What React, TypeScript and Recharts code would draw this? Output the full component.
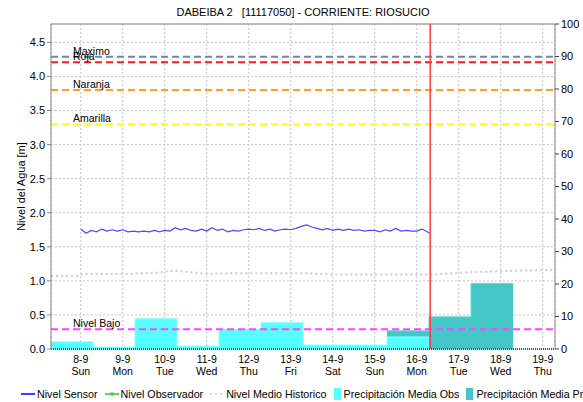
import React from "react";
import {
  ComposedChart,
  Line,
  Area,
  XAxis,
  YAxis,
  CartesianGrid,
  ReferenceLine,
  Legend,
} from "recharts";

const FONT = '"Liberation Sans", Arial, Helvetica, sans-serif';

const TITLE = "DABEIBA 2   [11117050] - CORRIENTE: RIOSUCIO";

// x axis: time in days, counted from 8-9 00:00
const DAY_LABELS = ["8-9", "9-9", "10-9", "11-9", "12-9", "13-9", "14-9", "15-9", "16-9", "17-9", "18-9", "19-9"];
const WEEKDAY_LABELS = ["Sun", "Mon", "Tue", "Wed", "Thu", "Fri", "Sat", "Sun", "Mon", "Tue", "Wed", "Thu"];
const DAY_TICKS = DAY_LABELS.map((_, i) => i);
const X_START = -17 / 24; // 7-9 07:00
const X_END = 11 + 7 / 24; // 19-9 07:00
const NOW = 8.32;

const LEVEL_TICKS = [0, 0.5, 1, 1.5, 2, 2.5, 3, 3.5, 4, 4.5];
const LEVEL_MAX = 4.77;
const MM_TICKS = [0, 10, 20, 30, 40, 50, 60, 70, 80, 90, 100];

// sensor level, one reading every 3 h from 8-9 00:00
const SENSOR_STEP = 3 / 24;
const SENSOR_M = [
  1.76, 1.70, 1.74, 1.72, 1.76, 1.73, 1.75, 1.73,
  1.75, 1.72, 1.73, 1.72, 1.73, 1.72, 1.74, 1.72,
  1.74, 1.73, 1.78, 1.75, 1.77, 1.74, 1.73, 1.76,
  1.73, 1.78, 1.74, 1.76, 1.72, 1.74, 1.73, 1.75,
  1.76, 1.75, 1.77, 1.74, 1.76, 1.73, 1.75, 1.76,
  1.75, 1.77, 1.80, 1.82, 1.79, 1.77, 1.75, 1.77,
  1.74, 1.76, 1.74, 1.76, 1.74, 1.75, 1.73, 1.74,
  1.74, 1.72, 1.75, 1.73, 1.77, 1.73, 1.74, 1.73,
  1.73, 1.76, 1.72,
];
const SENSOR_LAST_T = 8.31;
const SENSOR_LAST_M = 1.7;

// historic mean level
const HIST_T = [X_START, -0.05, 0.05, 1, 1.8, 2.2, 2.6, 3, 3.5, 5.4, 5.9, 8.5, 9, 10.4, X_END];
const HIST_M = [1.075, 1.075, 1.1, 1.1, 1.12, 1.15, 1.13, 1.1, 1.11, 1.11, 1.095, 1.095, 1.12, 1.15, 1.16];

// daily precipitation (07:00 - 07:00), first day starts 7-9 07:00
const OBS_MM = [2.2, 0.6, 9.3, 0.9, 6.0, 8.1, 1.2, 1.2, 3.7];
const PRED_FIRST_DAY = 8;
const PRED_MM = [5.6, 9.9, 20.2];

const THRESHOLD_NAMES = ["Maximo", "Roja", "Naranja", "Amarilla", "Nivel Bajo"];
const THRESHOLD_M = [4.29, 4.21, 3.8, 3.3, 0.29];
const THRESHOLD_COLORS = ["#7782a8", "#ff1a1a", "#ffa020", "#ffff10", "#ff44ff"];

const LEGEND_NAMES = [
  "Nivel Sensor",
  "Nivel Observador",
  "Nivel Medio Historico",
  "Precipitación Media Obs",
  "Precipitación Media Pronosticada",
];

const sensorData = [
  ...SENSOR_M.map((m, i) => ({ t: i * SENSOR_STEP, m })),
  { t: SENSOR_LAST_T, m: SENSOR_LAST_M },
];
const histData = HIST_T.map((t, i) => ({ t, m: HIST_M[i] }));

// step areas need a closing point at the end of the last day
const stepData = (values: number[], firstDay: number) => [
  ...values.map((mm, i) => ({ t: X_START + firstDay + i, mm })),
  { t: X_START + firstDay + values.length, mm: values[values.length - 1] },
];
const obsData = stepData(OBS_MM, 0);
const predData = stepData(PRED_MM, PRED_FIRST_DAY);

const XTick = ({ x, y, payload }: any) => (
  <g transform={`translate(${x},${y})`} fontFamily={FONT} fontSize={10.5} fill="#000">
    <text textAnchor="middle" y={6}>
      {DAY_LABELS[payload.value]}
    </text>
    <text textAnchor="middle" y={18}>
      {WEEKDAY_LABELS[payload.value]}
    </text>
  </g>
);

const thresholdLabel = (name: string) => (props: any) => {
  const { viewBox } = props;
  return (
    <text x={viewBox.x + 22} y={viewBox.y - 2} fontFamily={FONT} fontSize={10.5} fill="#000">
      {name}
    </text>
  );
};

const TitleLabel = (props: any) => {
  const { viewBox } = props;
  return (
    <text
      x={viewBox.x + viewBox.width / 2}
      y={viewBox.y - 8}
      textAnchor="middle"
      fontFamily={FONT}
      fontSize={11}
      fill="#000"
      style={{ whiteSpace: "pre" }}
    >
      {TITLE}
    </text>
  );
};

const LevelAxisLabel = (props: any) => {
  const { viewBox } = props;
  const x = viewBox.x + 22;
  const y = viewBox.y + viewBox.height / 2;
  return (
    <text
      x={x}
      y={y}
      transform={`rotate(-90, ${x}, ${y})`}
      textAnchor="middle"
      dominantBaseline="middle"
      fontFamily={FONT}
      fontSize={11}
      fill="#000"
    >
      Nivel del Agua [m]
    </text>
  );
};

const legendIcon = (i: number) => {
  if (i === 0) return <line x1={0} y1={6} x2={14} y2={6} stroke="#0000ff" strokeWidth={1.5} />;
  if (i === 1)
    return (
      <g>
        <line x1={0} y1={6} x2={14} y2={6} stroke="#33cc33" strokeWidth={1.5} />
        <rect x={5.5} y={4.5} width={3} height={3} fill="#33cc33" />
      </g>
    );
  if (i === 2) return <line x1={0} y1={6} x2={14} y2={6} stroke="#cccccc" strokeWidth={1.5} strokeDasharray="2 3" />;
  return <rect x={0} y={0} width={7} height={12} fill={i === 3 ? "#55ffff" : "#44c7c7"} />;
};

const renderLegend = () => (
  <div
    style={{
      display: "flex",
      alignItems: "center",
      paddingLeft: 21,
      width: 583,
      height: 16,
      overflow: "hidden",
      whiteSpace: "nowrap",
      fontFamily: FONT,
      fontSize: 10.7,
      color: "#000",
      boxSizing: "border-box",
    }}
  >
    {LEGEND_NAMES.map((name, i) => (
      <span key={name} style={{ display: "inline-flex", alignItems: "center", marginRight: 7, flexShrink: 0 }}>
        <svg width={i < 3 ? 14 : 7} height={12} style={{ display: "block" }}>
          {legendIcon(i)}
        </svg>
        <span style={{ marginLeft: i < 3 ? 2 : 3 }}>{name}</span>
      </span>
    ))}
  </div>
);

export default function App() {
  return (
    <div style={{ position: "absolute", left: 0, top: 0, width: 583, height: 402, background: "#fff" }}>
      <ComposedChart width={583} height={402} margin={{ top: 24, right: 0, bottom: 0, left: 0 }}>
        <CartesianGrid yAxisId="m" stroke="#c4c4c4" strokeDasharray="2 2" />
        <XAxis
          dataKey="t"
          type="number"
          domain={[X_START, X_END]}
          allowDataOverflow
          ticks={DAY_TICKS}
          interval={0}
          tick={<XTick />}
          tickLine={false}
          axisLine={{ stroke: "#222", strokeDasharray: "1 1", strokeWidth: 1.5 }}
          height={37}
        />
        <YAxis
          yAxisId="m"
          type="number"
          domain={[0, LEVEL_MAX]}
          ticks={LEVEL_TICKS}
          tickFormatter={(v: number) => v.toFixed(1)}
          width={51}
          tickSize={4}
          tick={{ fontSize: 11, fill: "#000", fontFamily: FONT }}
          axisLine={{ stroke: "#888" }}
          tickLine={{ stroke: "#888" }}
          label={{ content: LevelAxisLabel }}
        />
        <YAxis
          yAxisId="mm"
          orientation="right"
          type="number"
          domain={[0, 100]}
          ticks={MM_TICKS}
          width={28}
          tickSize={4}
          tick={{ fontSize: 11, fill: "#000", fontFamily: FONT }}
          axisLine={{ stroke: "#888" }}
          tickLine={{ stroke: "#444" }}
        />
        <ReferenceLine yAxisId="m" y={LEVEL_MAX} stroke="#888" label={{ content: TitleLabel }} />

        <Area
          yAxisId="mm"
          data={predData}
          dataKey="mm"
          type="stepAfter"
          fill="#44c7c7"
          fillOpacity={1}
          stroke="#6fd6d6"
          strokeWidth={1}
          isAnimationActive={false}
          name="Precipitación Media Pronosticada"
        />
        <Area
          yAxisId="mm"
          data={obsData}
          dataKey="mm"
          type="stepAfter"
          fill="#55ffff"
          fillOpacity={1}
          stroke="#8affff"
          strokeWidth={1}
          isAnimationActive={false}
          name="Precipitación Media Obs"
        />
        <Line
          yAxisId="m"
          data={histData}
          dataKey="m"
          type="linear"
          stroke="#cccccc"
          strokeWidth={2}
          strokeDasharray="2 3"
          dot={false}
          isAnimationActive={false}
          name="Nivel Medio Historico"
        />
        <Line
          yAxisId="m"
          data={sensorData}
          dataKey="m"
          type="linear"
          stroke="#4a4aff"
          strokeWidth={1.2}
          dot={false}
          isAnimationActive={false}
          name="Nivel Sensor"
        />

        {THRESHOLD_NAMES.map((name, i) => (
          <ReferenceLine
            key={name}
            yAxisId="m"
            y={THRESHOLD_M[i]}
            stroke={THRESHOLD_COLORS[i]}
            strokeWidth={2}
            strokeDasharray="7 4"
            label={{ content: thresholdLabel(name) }}
          />
        ))}
        <ReferenceLine yAxisId="m" x={NOW} stroke="#ff3b3b" strokeWidth={1.5} />

        <Legend verticalAlign="bottom" content={renderLegend} wrapperStyle={{ left: 0, width: 583 }} />
      </ComposedChart>
    </div>
  );
}
